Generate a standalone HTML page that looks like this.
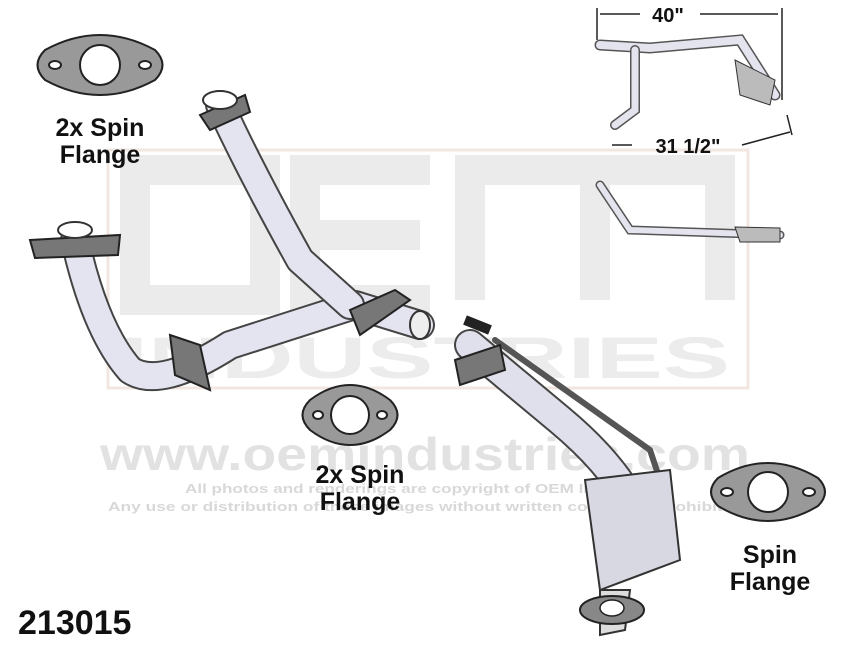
<!DOCTYPE html>
<html><head><meta charset="utf-8"><style>
html,body{margin:0;padding:0;background:#fff;}
body{width:850px;height:657px;overflow:hidden;position:relative;font-family:"Liberation Sans",sans-serif;}
.lbl{position:absolute;font-weight:bold;color:#111;font-size:25px;text-align:center;line-height:27px;}
</style></head><body>
<svg width="850" height="657" style="position:absolute;left:0;top:0">
<g fill="none" stroke="#ebebeb" stroke-width="30">
<path d="M135 170 H265 V300 H135 Z"/>
<path d="M430 170 H305 V300 H430 M305 235 H420"/>
<path d="M470 300 V170 H720 V300 M595 170 V300"/>
</g>
<g fill="none" stroke="#f1e6e0" stroke-width="3"><rect x="108" y="150" width="640" height="238"/></g>
<text x="120" y="378" textLength="610" lengthAdjust="spacingAndGlyphs" font-family="Liberation Sans" font-weight="bold" font-size="58" fill="#ececec">INDUSTRIES</text>
<text x="100" y="470" textLength="650" lengthAdjust="spacingAndGlyphs" font-family="Liberation Sans" font-weight="bold" font-size="46" fill="#e2e2e2">www.oemindustries.com</text>
<text x="185" y="493" textLength="480" lengthAdjust="spacingAndGlyphs" font-family="Liberation Sans" font-weight="bold" font-size="13" fill="#d8d8d8">All photos and renderings are copyright of OEM Industries.</text>
<text x="108" y="511" textLength="635" lengthAdjust="spacingAndGlyphs" font-family="Liberation Sans" font-weight="bold" font-size="13" fill="#d8d8d8">Any use or distribution of these images without written consent is prohibited</text>
<g fill="#999" stroke="#222" stroke-width="2">
<path d="M45 50 Q100 20 155 50 Q170 65 155 80 Q100 110 45 80 Q30 65 45 50Z"/>
<path d="M310 400 Q350 370 390 400 Q405 415 390 430 Q350 460 310 430 Q295 415 310 400Z"/>
<path d="M718 478 Q768 448 818 478 Q832 492 818 506 Q768 536 718 506 Q704 492 718 478Z"/>
</g>
<g fill="#fff" stroke="#222" stroke-width="2">
<circle cx="100" cy="65" r="20"/><ellipse cx="55" cy="65" rx="6" ry="4"/><ellipse cx="145" cy="65" rx="6" ry="4"/>
<circle cx="350" cy="415" r="19"/><ellipse cx="318" cy="415" rx="5" ry="4"/><ellipse cx="382" cy="415" rx="5" ry="4"/>
<circle cx="768" cy="492" r="20"/><ellipse cx="727" cy="492" rx="6" ry="4"/><ellipse cx="809" cy="492" rx="6" ry="4"/>
</g>
<g fill="none" stroke-linecap="round" stroke-linejoin="round">
<path d="M75 240 Q95 330 130 370 Q160 390 230 345 L355 305 L420 325" stroke="#444" stroke-width="30"/>
<path d="M75 240 Q95 330 130 370 Q160 390 230 345 L355 305 L420 325" stroke="#e4e4f0" stroke-width="26"/>
<path d="M220 105 Q250 170 300 260 L350 305" stroke="#444" stroke-width="30"/>
<path d="M220 105 Q250 170 300 260 L350 305" stroke="#e4e4f0" stroke-width="26"/>
<path d="M470 345 L560 420 Q620 470 640 520" stroke="#444" stroke-width="32"/>
<path d="M470 345 L560 420 Q620 470 640 520" stroke="#e0e0ec" stroke-width="28"/>
<path d="M495 340 L650 450 L660 480" stroke="#555" stroke-width="6"/>
</g>
<path d="M585 480 L670 470 L680 560 L600 590 Z" fill="#d8d8e2" stroke="#333" stroke-width="2"/>
<path d="M600 590 L630 590 L625 630 L600 635 Z" fill="#ddd" stroke="#333" stroke-width="2"/>
<ellipse cx="612" cy="610" rx="32" ry="14" fill="#888" stroke="#222" stroke-width="2"/>
<ellipse cx="612" cy="608" rx="12" ry="8" fill="#fff" stroke="#222" stroke-width="1.5"/>
<g fill="#777" stroke="#222" stroke-width="2">
<path d="M30 240 L120 235 L118 255 L35 258Z"/>
<path d="M200 115 L245 95 L250 112 L210 130Z"/>
<path d="M170 335 L200 345 L210 390 L175 375Z"/>
<path d="M350 310 L395 290 L410 300 L360 335Z"/>
<path d="M455 360 L500 345 L505 370 L460 385Z"/>
</g>
<ellipse cx="75" cy="230" rx="17" ry="8" fill="#fff" stroke="#333" stroke-width="2"/>
<ellipse cx="220" cy="100" rx="17" ry="9" fill="#fff" stroke="#333" stroke-width="2"/>
<ellipse cx="420" cy="325" rx="10" ry="14" fill="#eee" stroke="#333" stroke-width="2"/>
<path d="M465 320 L490 330" stroke="#222" stroke-width="10"/>
<g stroke="#222" stroke-width="1.5" fill="none">
<path d="M597 8 V40 M782 8 V100 M600 14 H640 M700 14 H778"/>
<path d="M612 145 L632 145 M742 145 L790 132 M787 115 L792 135"/>
</g>
<g fill="none" stroke-linecap="round">
<path d="M600 45 L650 48 L740 40 L775 95" stroke="#555" stroke-width="11"/>
<path d="M600 45 L650 48 L740 40 L775 95" stroke="#e4e4ee" stroke-width="8"/>
<path d="M635 50 L635 110 L615 125" stroke="#555" stroke-width="10"/>
<path d="M635 50 L635 110 L615 125" stroke="#e4e4ee" stroke-width="7"/>
<path d="M600 185 L630 230 L780 235" stroke="#555" stroke-width="9"/>
<path d="M600 185 L630 230 L780 235" stroke="#e4e4ee" stroke-width="6"/>
</g>
<path d="M735 60 L775 80 L770 105 L740 95Z" fill="#bbb" stroke="#333"/>
<path d="M735 227 L780 228 L780 242 L740 242Z" fill="#bbb" stroke="#333"/>
<text x="668" y="22" font-family="Liberation Sans" font-weight="bold" font-size="20" fill="#111" text-anchor="middle">40"</text>
<text x="688" y="153" font-family="Liberation Sans" font-weight="bold" font-size="20" fill="#111" text-anchor="middle">31 1/2"</text>
</svg>
<div class="lbl" style="left:35px;top:115px;width:130px">2x Spin<br>Flange</div>
<div class="lbl" style="left:295px;top:462px;width:130px">2x Spin<br>Flange</div>
<div class="lbl" style="left:705px;top:542px;width:130px">Spin<br>Flange</div>
<div class="lbl" style="left:18px;top:605px;font-size:34px;line-height:36px">213015</div>
</body></html>
